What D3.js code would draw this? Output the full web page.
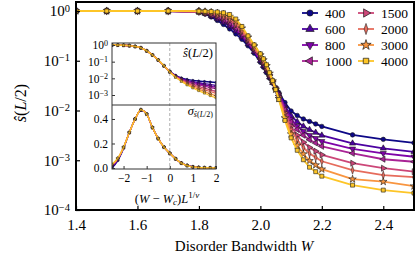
<!DOCTYPE html>
<html><head><meta charset="utf-8">
<script src="https://cdn.jsdelivr.net/npm/d3@7"></script>
<style>
html,body{margin:0;padding:0;background:#fff;}
svg{display:block;}
text{font-family:"Liberation Serif","DejaVu Serif",serif;fill:#000;}
</style></head><body>
<svg id="c" width="415" height="257"></svg>
<script>
// ---------------- DATA ----------------
const sizes = [400, 600, 800, 1000, 1500, 2000, 3000, 4000];
const colors = ["#0d0887","#4c02a1","#7e03a8","#a92395","#cc4778","#e66c5c","#f89540","#fdc527"];
const W = [1.4,1.5,1.6,1.7,1.8,1.82,1.84,1.86,1.88,1.9,1.92,1.94,1.96,1.98,2.0,2.01,2.02,2.03,2.04,2.05,2.06,2.08,2.1,2.12,2.14,2.16,2.18,2.2,2.3,2.4,2.5];
// log10 of s(L/2), one array per system size
const logS400  = [0,0,0,-0.003,-0.02,-0.06,-0.12,-0.19,-0.27,-0.36,-0.46,-0.57,-0.70,-0.85,-1.03,-1.13,-1.24,-1.35,-1.45,-1.55,-1.64,-1.84,-2.01,-2.10,-2.17,-2.22,-2.27,-2.32,-2.49,-2.58,-2.65];
const logS600  = [0,0,0,-0.002,-0.017,-0.050,-0.100,-0.159,-0.228,-0.308,-0.406,-0.523,-0.664,-0.819,-0.999,-1.099,-1.211,-1.330,-1.441,-1.555,-1.665,-1.905,-2.107,-2.226,-2.318,-2.386,-2.443,-2.50,-2.66,-2.76,-2.83];
const logS800  = [0,0,0,-0.002,-0.015,-0.044,-0.087,-0.139,-0.200,-0.273,-0.37,-0.492,-0.64,-0.799,-0.979,-1.079,-1.192,-1.317,-1.435,-1.559,-1.682,-1.948,-2.172,-2.31,-2.416,-2.496,-2.558,-2.62,-2.77,-2.86,-2.93];
const logS1000 = [0,0,0,-0.002,-0.013,-0.038,-0.076,-0.122,-0.176,-0.244,-0.34,-0.466,-0.62,-0.782,-0.962,-1.062,-1.176,-1.306,-1.43,-1.562,-1.696,-1.984,-2.226,-2.38,-2.498,-2.588,-2.654,-2.72,-2.86,-2.98,-3.03];
const logS1500 = [0,0,0,-0.001,-0.010,-0.029,-0.057,-0.093,-0.136,-0.195,-0.289,-0.422,-0.586,-0.753,-0.933,-1.033,-1.149,-1.287,-1.42,-1.567,-1.72,-2.045,-2.318,-2.499,-2.637,-2.744,-2.817,-2.89,-3.06,-3.16,-3.23];
const logS2000 = [0,0,0,-0.001,-0.008,-0.022,-0.043,-0.071,-0.106,-0.157,-0.25,-0.388,-0.56,-0.731,-0.911,-1.011,-1.128,-1.273,-1.415,-1.571,-1.738,-2.092,-2.388,-2.59,-2.744,-2.864,-2.942,-3.02,-3.20,-3.30,-3.34];
const logS3000 = [0,0,0,0,-0.005,-0.014,-0.025,-0.044,-0.068,-0.111,-0.202,-0.346,-0.528,-0.704,-0.884,-0.984,-1.102,-1.255,-1.407,-1.576,-1.76,-2.15,-2.474,-2.702,-2.875,-3.011,-3.096,-3.18,-3.38,-3.43,-3.52];
const logS4000 = [0,0,0,0,-0.003,-0.006,-0.01,-0.02,-0.035,-0.07,-0.16,-0.31,-0.50,-0.68,-0.86,-0.96,-1.08,-1.24,-1.40,-1.58,-1.78,-2.20,-2.55,-2.80,-2.99,-3.14,-3.23,-3.32,-3.50,-3.60,-3.66];
const mainSeries = [logS400,logS600,logS800,logS1000,logS1500,logS2000,logS3000,logS4000];

// inset: scaling variable (W - Wc) L^{1/nu}
const insetX = [-2.5,-2.25,-2,-1.75,-1.5,-1.25,-1,-0.75,-0.5,-0.25,0,0.25,0.5,0.75,1,1.25,1.5,1.75,2];
const insetLogS = [
  [0,-0.005,-0.015,-0.04,-0.09,-0.17,-0.35,-0.60,-0.90,-1.25,-1.58,-1.82,-1.97,-2.06,-2.12,-2.16,-2.19,-2.22,-2.25],
  [0,-0.005,-0.015,-0.04,-0.09,-0.17,-0.35,-0.60,-0.90,-1.25,-1.59,-1.84,-2.01,-2.12,-2.20,-2.26,-2.32,-2.37,-2.42],
  [0,-0.005,-0.015,-0.04,-0.09,-0.17,-0.35,-0.60,-0.90,-1.25,-1.59,-1.85,-2.03,-2.16,-2.26,-2.33,-2.40,-2.47,-2.53],
  [0,-0.005,-0.015,-0.04,-0.09,-0.17,-0.35,-0.60,-0.90,-1.25,-1.60,-1.86,-2.05,-2.20,-2.30,-2.39,-2.47,-2.55,-2.62],
  [0,-0.005,-0.015,-0.04,-0.09,-0.17,-0.35,-0.60,-0.90,-1.25,-1.60,-1.88,-2.09,-2.25,-2.38,-2.49,-2.59,-2.69,-2.78],
  [0,-0.005,-0.015,-0.04,-0.09,-0.17,-0.35,-0.60,-0.90,-1.25,-1.61,-1.90,-2.12,-2.30,-2.44,-2.57,-2.68,-2.79,-2.90],
  [0,-0.005,-0.015,-0.04,-0.09,-0.17,-0.35,-0.60,-0.90,-1.25,-1.61,-1.91,-2.15,-2.35,-2.52,-2.66,-2.79,-2.93,-3.05],
  [0,-0.005,-0.015,-0.04,-0.09,-0.17,-0.35,-0.60,-0.90,-1.25,-1.62,-1.93,-2.18,-2.40,-2.58,-2.74,-2.89,-3.04,-3.18]
];
const insetSigma = [
  [0.00,0.06,0.16,0.29,0.40,0.47,0.44,0.33,0.24,0.17,0.12,0.076,0.042,0.022,0.010,0.005,0.002,0.001,0.0],
  [0.01,0.065,0.165,0.29,0.40,0.472,0.44,0.33,0.24,0.17,0.12,0.076,0.041,0.021,0.010,0.004,0.002,0.001,0.0],
  [0.015,0.07,0.165,0.29,0.40,0.473,0.44,0.33,0.24,0.17,0.12,0.075,0.041,0.021,0.009,0.004,0.002,0.001,0.0],
  [0.02,0.072,0.167,0.29,0.40,0.474,0.44,0.33,0.24,0.17,0.12,0.075,0.040,0.020,0.009,0.004,0.002,0.001,0.0],
  [0.022,0.075,0.168,0.29,0.40,0.475,0.44,0.33,0.24,0.17,0.12,0.075,0.040,0.020,0.009,0.004,0.002,0.001,0.0],
  [0.025,0.077,0.169,0.29,0.40,0.475,0.44,0.33,0.24,0.17,0.12,0.075,0.040,0.020,0.009,0.004,0.002,0.001,0.0],
  [0.028,0.078,0.17,0.29,0.40,0.475,0.44,0.33,0.24,0.17,0.12,0.075,0.040,0.020,0.009,0.004,0.002,0.001,0.0],
  [0.03,0.08,0.17,0.29,0.40,0.475,0.44,0.33,0.24,0.17,0.12,0.075,0.040,0.020,0.009,0.004,0.002,0.001,0.0]
];
const xTicks = [1.4,1.6,1.8,2.0,2.2,2.4];
const yTickExp = [0,-1,-2,-3,-4];
const insetYTickExp = [0,-1,-2,-3];
const insetSigmaTicks = [0.0,0.2,0.4];
const insetXTicks = [-2,-1,0,1,2];

// ---------------- DRAW ----------------
const svg = d3.select("#c");
const defs = svg.append("defs");
const pL=76, pR=414, pT=2, pB=210;
const x = d3.scaleLinear().domain([1.4,2.5]).range([pL,pR]);
const y = d3.scaleLog().domain([1e-4,1]).range([pB,11]);

defs.append("clipPath").attr("id","clipMain").append("rect")
  .attr("x",pL).attr("y",pT).attr("width",pR-pL).attr("height",pB-pT);

const shapes = [
  {t:d3.symbolCircle, rot:0, sx:1, s:1},
  {t:d3.symbolTriangle, rot:0, sx:1, s:1},
  {t:d3.symbolTriangle, rot:180, sx:1, s:1},
  {t:d3.symbolTriangle, rot:-90, sx:1, s:1},
  {t:d3.symbolTriangle, rot:90, sx:1, s:1},
  {t:d3.symbolDiamond, rot:0, sx:0.6, s:1.2},
  {t:d3.symbolStar, rot:0, sx:1, s:1.1},
  {t:d3.symbolSquare, rot:0, sx:1, s:1}
];
function marker(sel, i, size, px, py, sw){
  const sh = shapes[i];
  sel.append("path")
    .attr("d", d3.symbol().type(sh.t).size(size*sh.s)())
    .attr("transform", `translate(${px},${py}) rotate(${sh.rot}) scale(${sh.sx},1)`)
    .attr("fill", colors[i]).attr("stroke","#1a1a1a").attr("stroke-width",sw);
}

const gMain = svg.append("g").attr("clip-path","url(#clipMain)");
mainSeries.forEach((arr,i)=>{
  const line = d3.line().x((d,j)=>x(W[j])).y(d=>y(Math.pow(10,d)));
  gMain.append("path").attr("d", line(arr)).attr("fill","none")
    .attr("stroke",colors[i]).attr("stroke-width",1.8).attr("stroke-linejoin","round");
  const gm = gMain.append("g");
  arr.forEach((d,j)=> marker(gm, i, 16, x(W[j]), y(Math.pow(10,d)), 0.6));
});

// main axes
const xAxis = d3.axisBottom(x).tickValues(xTicks).tickFormat(d3.format(".1f")).tickSize(-4).tickPadding(9);
const gx = svg.append("g").attr("transform",`translate(0,${pB})`).call(xAxis);
gx.select(".domain").remove();
gx.selectAll("line").attr("stroke","#000").attr("stroke-width",1.2);
gx.selectAll("text").attr("font-size",15).attr("font-family","Liberation Serif, serif").attr("fill","#000");

const yAxis = d3.axisLeft(y).tickValues(yTickExp.map(e=>Math.pow(10,e))).tickSize(-4).tickPadding(6).tickFormat(()=>"");
const gy = svg.append("g").attr("transform",`translate(${pL},0)`).call(yAxis);
gy.select(".domain").remove();
gy.selectAll("line").attr("stroke","#000").attr("stroke-width",1.2);
gy.selectAll(".tick text").each(function(d,k){
  const t = d3.select(this).attr("font-size",15).attr("font-family","Liberation Serif, serif").attr("x",-6).attr("dy","0.32em");
  t.append("tspan").text("10");
  t.append("tspan").attr("dy","-0.45em").attr("font-size",10.5).text(yTickExp[k]===0 ? "0" : "\u2212"+(-yTickExp[k]));
});

svg.append("rect").attr("x",pL).attr("y",pT).attr("width",pR-pL).attr("height",pB-pT)
  .attr("fill","none").attr("stroke","#000").attr("stroke-width",2);

// axis labels
const xl = svg.append("text").attr("x",244).attr("y",251).attr("text-anchor","middle").attr("font-size",15);
xl.append("tspan").text("Disorder Bandwidth ");
xl.append("tspan").attr("font-style","italic").text("W");

const yl = svg.append("text").attr("transform","translate(26,103) rotate(-90)").attr("text-anchor","middle").attr("font-size",16);
yl.append("tspan").attr("font-style","italic").text("\u015D");
yl.append("tspan").text("(");
yl.append("tspan").attr("font-style","italic").text("L");
yl.append("tspan").text("/2)");

// legend
const legRows = [13,29,45,61];
sizes.forEach((L,i)=>{
  const col = Math.floor(i/4), row = i%4;
  const lx = col===0 ? 302 : 358;
  const ly = legRows[row];
  const g = svg.append("g");
  g.append("line").attr("x1",lx).attr("x2",lx+16).attr("y1",ly).attr("y2",ly)
    .attr("stroke",colors[i]).attr("stroke-width",1.8);
  marker(g, i, 30, lx+8, ly, 0.7);
  g.append("text").attr("x",lx+23).attr("y",ly+4.5).attr("font-size",13.5).text(L);
});

// ---------------- INSET ----------------
const iL=112, iR=216, iT=43, iM=105, iB=169;
const ix = d3.scaleLinear().domain([-2.5,2]).range([iL,iR]);
const iyU = d3.scaleLog().domain([Math.pow(10,-3.6),Math.pow(10,0.12)]).range([iM,iT]);
const iyL = d3.scaleLinear().domain([-0.008,0.514]).range([iB,iM]);

svg.append("rect").attr("x",iL).attr("y",iT).attr("width",iR-iL).attr("height",iB-iT).attr("fill","#fff");
defs.append("clipPath").attr("id","clipU").append("rect").attr("x",iL).attr("y",iT).attr("width",iR-iL).attr("height",iM-iT);
defs.append("clipPath").attr("id","clipL").append("rect").attr("x",iL).attr("y",iM).attr("width",iR-iL).attr("height",iB-iM);

// dashed line at 0
svg.append("line").attr("x1",ix(0)).attr("x2",ix(0)).attr("y1",iT).attr("y2",iB)
  .attr("stroke","#999").attr("stroke-width",0.8).attr("stroke-dasharray","3,2");

const gU = svg.append("g").attr("clip-path","url(#clipU)");
insetLogS.forEach((arr,i)=>{
  const line = d3.line().x((d,j)=>ix(insetX[j])).y(d=>iyU(Math.pow(10,d))).curve(d3.curveMonotoneX);
  gU.append("path").attr("d",line(arr)).attr("fill","none").attr("stroke",colors[i]).attr("stroke-width",1.3);
  arr.forEach((d,j)=> marker(gU, i, 4, ix(insetX[j]), iyU(Math.pow(10,d)), 0.4));
});
const gLo = svg.append("g").attr("clip-path","url(#clipL)");
insetSigma.forEach((arr,i)=>{
  const line = d3.line().x((d,j)=>ix(insetX[j])).y(d=>iyL(d)).curve(d3.curveMonotoneX);
  gLo.append("path").attr("d",line(arr)).attr("fill","none").attr("stroke",colors[i]).attr("stroke-width",1.3);
  arr.forEach((d,j)=> marker(gLo, i, 4, ix(insetX[j]), iyL(d), 0.4));
});

// inset frames
svg.append("rect").attr("x",iL).attr("y",iT).attr("width",iR-iL).attr("height",iB-iT)
  .attr("fill","none").attr("stroke","#333").attr("stroke-width",1);
svg.append("line").attr("x1",iL).attr("x2",iR).attr("y1",iM).attr("y2",iM).attr("stroke","#333").attr("stroke-width",1);

// inset axes
const gIU = svg.append("g").attr("transform",`translate(${iL},0)`)
  .call(d3.axisLeft(iyU).tickValues(insetYTickExp.map(e=>Math.pow(10,e))).tickSize(-3).tickPadding(4).tickFormat(()=>""));
gIU.select(".domain").remove();
gIU.selectAll("line").attr("stroke","#333");
gIU.selectAll(".tick text").each(function(d,k){
  const t = d3.select(this).attr("font-size",11.5).attr("font-family","Liberation Serif, serif").attr("x",-4).attr("dy","0.32em");
  t.append("tspan").text("10");
  t.append("tspan").attr("dy","-0.45em").attr("font-size",8).text(insetYTickExp[k]===0 ? "0" : "\u2212"+(-insetYTickExp[k]));
});
const gIL = svg.append("g").attr("transform",`translate(${iL},0)`)
  .call(d3.axisLeft(iyL).tickValues(insetSigmaTicks).tickSize(-3).tickPadding(4).tickFormat(d3.format(".1f")));
gIL.select(".domain").remove();
gIL.selectAll("line").attr("stroke","#333");
gIL.selectAll("text").attr("font-size",11.5).attr("font-family","Liberation Serif, serif").attr("fill","#000");
const gIX = svg.append("g").attr("transform",`translate(0,${iB})`)
  .call(d3.axisBottom(ix).tickValues(insetXTicks).tickSize(-3).tickPadding(5).tickFormat(d=> d<0 ? "\u2212"+(-d) : ""+d));
gIX.select(".domain").remove();
gIX.selectAll("line").attr("stroke","#333");
gIX.selectAll("text").attr("font-size",11.5).attr("font-family","Liberation Serif, serif").attr("fill","#000");

// inset labels
const il = svg.append("text").attr("x",167).attr("y",203).attr("text-anchor","middle").attr("font-size",12.5);
il.append("tspan").text("(");
il.append("tspan").attr("font-style","italic").text("W");
il.append("tspan").text(" \u2212 ");
il.append("tspan").attr("font-style","italic").text("W");
il.append("tspan").attr("font-style","italic").attr("font-size",9).attr("dy","2").text("c");
il.append("tspan").attr("dy","-2").text(")");
il.append("tspan").attr("font-style","italic").text("L");
il.append("tspan").attr("font-size",9).attr("dy","-5").text("1/");
il.append("tspan").attr("font-size",9).attr("font-style","italic").text("\u03BD");

const ul = svg.append("text").attr("x",213).attr("y",57).attr("text-anchor","end").attr("font-size",12.5);
ul.append("tspan").attr("font-style","italic").text("\u015D");
ul.append("tspan").text("(");
ul.append("tspan").attr("font-style","italic").text("L");
ul.append("tspan").text("/2)");

const sl = svg.append("text").attr("x",213).attr("y",115).attr("text-anchor","end").attr("font-size",12.5);
sl.append("tspan").attr("font-style","italic").text("\u03C3");
sl.append("tspan").attr("font-size",8).attr("dy","2").attr("font-style","italic").text("\u015D");
sl.append("tspan").attr("font-size",8).text("(");
sl.append("tspan").attr("font-size",8).attr("font-style","italic").text("L");
sl.append("tspan").attr("font-size",8).text("/2)");
</script>
</body></html>
